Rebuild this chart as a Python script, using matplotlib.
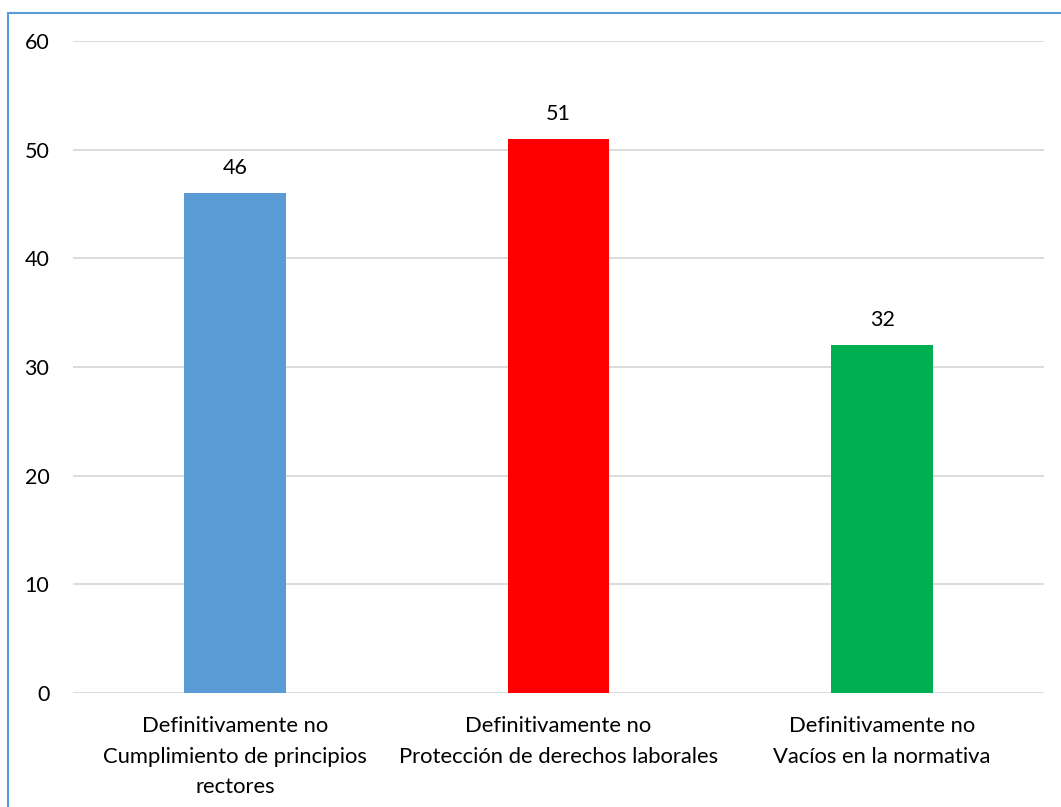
import matplotlib.pyplot as plt
from matplotlib.patches import Rectangle

categories = ['Definitivamente no\nCumplimiento de principios\nrectores',
              'Definitivamente no\nProtección de derechos laborales',
              'Definitivamente no\nVacíos en la normativa']
values = [46, 51, 32]
colors = ['#5B9BD5', '#FF0000', '#00B050']
yticks = [0, 10, 20, 30, 40, 50, 60]

plt.rcParams['font.family'] = ['Lato', 'DejaVu Sans']

fig = plt.figure(figsize=(10.61, 8.07), dpi=100)
ax = fig.add_axes([73 / 1061, 1 - 692.7 / 807, 971 / 1061, (692.7 - 41.3) / 807])

x = range(len(categories))
bars = ax.bar(x, values, width=0.315, color=colors, zorder=3)
for b, v in zip(bars, values):
    ax.annotate(str(v), (b.get_x() + b.get_width() / 2, v), xytext=(0, 11),
                textcoords='offset points', ha='center', va='bottom',
                fontsize=15.5, color='#000000')

ax.set_xlim(-0.5, 2.5)
ax.set_ylim(0, 60)
ax.set_yticks(yticks)
ax.set_xticks(list(x))
ax.set_xticklabels(categories, fontsize=15.8, linespacing=1.66)
ax.tick_params(axis='y', length=0, pad=17, labelsize=15.5)
ax.tick_params(axis='x', length=0, pad=17)
ax.grid(axis='y', color='#D9D9D9', linewidth=1.3, zorder=0)
for s in ax.spines.values():
    s.set_visible(False)

# outer frame of the chart area
fig.patches.append(Rectangle((8 / 1061, -0.1), 1.2, 1 - 13 / 807 + 0.1,
                             transform=fig.transFigure, fill=False,
                             edgecolor='#5B9BD5', linewidth=1.5))

fig.savefig('out.png', dpi=100)
